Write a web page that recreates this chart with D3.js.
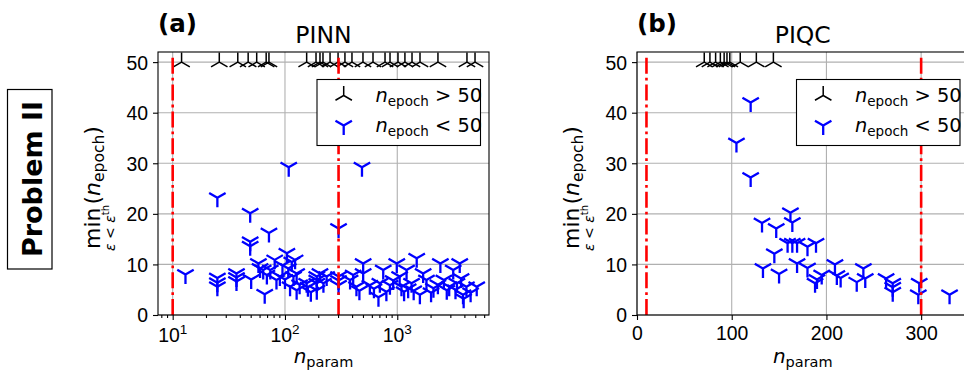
<!DOCTYPE html>
<html>
<head>
<meta charset="utf-8">
<script src="https://cdn.jsdelivr.net/npm/d3@7"></script>
<style>
body{margin:0;background:#fff}
svg{font-family:"DejaVu Sans",sans-serif}
</style>
</head>
<body>
<svg width="964" height="370"></svg>
<script>
// panel (a) PINN : runs that needed more than 50 epochs (drawn at 50)
var pinnSlowN = [12, 26, 38, 47, 56, 68, 72, 156, 189, 205, 218, 252, 297, 342, 395, 495, 608, 778, 862, 1015, 1170, 1353, 1594, 2303, 4175, 4925]
// panel (a) PINN : runs below 50 epochs
var pinnFastN = [13, 25, 49, 72, 49, 49, 25, 25, 25, 37, 37, 37, 50, 66, 108, 485, 300,
  58, 60, 64, 74, 81, 90, 104, 107, 123, 119, 127, 84, 69, 111, 127, 156, 192, 192, 192, 205, 192,
  235, 220, 300, 300, 300, 405, 380, 497, 497, 433, 570, 750, 700, 860, 990, 1050, 1090, 1210,
  1490, 1340, 1590, 1700, 1820, 2100, 2420, 2600, 2760, 3150, 3600, 3400, 3850, 4130, 5100, 680, 3900,
  95, 115, 100, 135, 160, 170, 460, 620, 800, 920, 1150, 1250, 1400, 2000, 2300, 2900, 3300, 3700, 4500]
var pinnFastEpoch = [8.0, 23.2, 20.1, 16.2, 14.5, 13.6, 7.3, 6.4, 5.6, 8.2, 7.4, 6.6, 7.0, 4.1, 29.2, 29.2, 17.1,
  10.2, 9.2, 8.9, 8.9, 10.9, 7.6, 12.2, 9.2, 10.9, 7.6, 8.2, 6.9, 7.9, 5.6, 4.9, 6.3, 7.6, 6.9, 6.3, 8.2, 4.9,
  7.6, 6.3, 7.6, 6.8, 5.9, 7.9, 6.9, 10.2, 8.2, 5.6, 5.9, 8.9, 6.3, 5.9, 10.2, 7.6, 5.6, 8.9,
  11.2, 6.3, 4.0, 8.2, 6.9, 5.3, 10.2, 6.9, 4.9, 8.9, 10.2, 6.3, 4.0, 5.6, 5.6, 3.5, 3.2,
  9.8, 10.5, 7.0, 6.0, 5.5, 4.5, 4.8, 5.2, 4.6, 6.8, 4.6, 5.2, 4.8, 4.4, 6.0, 5.6, 5.0, 7.2, 4.4]

// panel (b) PIQC
var piqcSlowN = [71, 77, 83, 88, 92, 95, 98, 109, 126, 144]
var piqcFastN = [105, 120, 120, 132, 147, 162, 164, 145, 133, 150, 159, 164, 169, 180, 189, 169, 180, 190, 195, 188,
  209, 211, 215, 232, 239, 241, 263, 270, 270, 270, 298, 297, 330]
var piqcFastEpoch = [34, 42, 27.2, 18.2, 17.1, 20.2, 18.3, 12.1, 9.2, 8.1, 14.2, 14.2, 14.2, 13.5, 14.2, 10.2, 9.3, 7.0, 7.9, 6.3,
  10.0, 7.8, 7.3, 6.5, 9.2, 7.2, 7.2, 6.3, 5.5, 4.5, 6.3, 4.0, 4.0]

var slowEpoch = 50
var paramLimits = [10, 300]
var yTicks = [0, 10, 20, 30, 40, 50]
var logTicks = [10, 100, 1000]
var linTicks = [0, 100, 200, 300]

var svg = d3.select("svg")
var plotTop = 52, plotBottom = 315

var y = d3.scaleLinear().domain([0, 52]).range([plotBottom, plotTop])

function tri(r, up) {
  var c = r * Math.cos(Math.PI / 6), s = r * 0.5
  if (up) return "M0,0V" + (-r) + "M0,0L" + (-c) + "," + s + "M0,0L" + c + "," + s
  return "M0,0V" + r + "M0,0L" + (-c) + "," + (-s) + "M0,0L" + c + "," + (-s)
}

function panel(id, x, left, right, slowN, fastN, fastEp, letter, title, isLog) {
  var g = svg.append("g")
  g.append("clipPath").attr("id", "clip" + id)
    .append("rect").attr("x", left).attr("y", plotTop).attr("width", right - left).attr("height", plotBottom - plotTop)

  // grid
  var gx = isLog ? logTicks : linTicks
  g.selectAll(".gx").data(gx).enter().append("line")
    .attr("x1", d => x(d)).attr("x2", d => x(d)).attr("y1", plotTop).attr("y2", plotBottom)
    .attr("stroke", "#b0b0b0").attr("stroke-width", 1.1)
  g.selectAll(".gy").data(yTicks).enter().append("line")
    .attr("x1", left).attr("x2", right).attr("y1", d => y(d)).attr("y2", d => y(d))
    .attr("stroke", "#b0b0b0").attr("stroke-width", 1.1)

  var plot = g.append("g").attr("clip-path", "url(#clip" + id + ")")
  plot.selectAll(".slow").data(slowN).enter().append("path")
    .attr("d", tri(9.5, true))
    .attr("transform", d => "translate(" + x(d) + "," + y(slowEpoch) + ")")
    .attr("fill", "none").attr("stroke", "#000").attr("stroke-width", 1.5)
  plot.selectAll(".fast").data(fastN).enter().append("path")
    .attr("d", tri(9.5, false))
    .attr("transform", (d, i) => "translate(" + x(d) + "," + y(fastEp[i]) + ")")
    .attr("fill", "none").attr("stroke", "#0000ff").attr("stroke-width", 2.3)

  // red limits
  plot.selectAll(".lim").data(paramLimits).enter().append("line")
    .attr("x1", d => x(d)).attr("x2", d => x(d)).attr("y1", y(0)).attr("y2", y(51))
    .attr("stroke", "red").attr("stroke-width", 2.6).attr("stroke-dasharray", "16,4,2.8,4")

  // axes
  var ya = g.append("g").attr("transform", "translate(" + left + ",0)")
    .call(d3.axisLeft(y).tickValues(yTicks).tickSize(5).tickPadding(5))
  ya.select(".domain").remove()
  ya.selectAll("text").style("font-size", "19.4px").attr("fill", "#000").attr("dy", "0.36em")
  ya.selectAll("line").attr("stroke", "#000").attr("stroke-width", 1.1)

  var xa = g.append("g").attr("transform", "translate(0," + plotBottom + ")")
  if (isLog) {
    xa.call(d3.axisBottom(x).tickValues(logTicks).tickSize(5).tickFormat(""))
    var minor = []
    ;[1, 10, 100, 1000].forEach(function (b) { for (var k = 2; k < 10; k++) if (b * k > x.domain()[0] && b * k < x.domain()[1]) minor.push(b * k) })
    xa.selectAll(".minor").data(minor).enter().append("line")
      .attr("x1", d => x(d)).attr("x2", d => x(d)).attr("y1", 0).attr("y2", 3)
      .attr("stroke", "#000").attr("stroke-width", 0.9)
    var lab = xa.selectAll(".lab").data(logTicks).enter().append("text")
      .attr("x", d => x(d)).attr("y", 27).attr("text-anchor", "middle")
      .attr("fill", "#000").style("font-size", "19.4px")
    lab.append("tspan").text("10")
    lab.append("tspan").attr("dy", -8).style("font-size", "13.5px").text(d => Math.round(Math.log10(d)))
  } else {
    xa.call(d3.axisBottom(x).tickValues(linTicks).tickSize(5).tickPadding(5))
    xa.selectAll("text").style("font-size", "19.4px").attr("fill", "#000").attr("dy", "0.76em")
  }
  xa.select(".domain").remove()
  xa.selectAll("line").attr("stroke", "#000").attr("stroke-width", 1.1)

  // spines
  g.append("rect").attr("x", left).attr("y", plotTop).attr("width", right - left).attr("height", plotBottom - plotTop)
    .attr("fill", "none").attr("stroke", "#000").attr("stroke-width", 1.1)

  // titles
  var cx = (left + right) / 2
  g.append("text").attr("x", left).attr("y", 32).style("font-size", "24.5px").style("font-weight", "bold").text(letter)
  g.append("text").attr("x", cx).attr("y", 43).attr("text-anchor", "middle").style("font-size", "23.5px").text(title)

  // x label
  var xl = g.append("text").attr("x", cx).attr("y", 363).attr("text-anchor", "middle").style("font-size", "20px")
  xl.append("tspan").style("font-style", "italic").text("n")
  xl.append("tspan").attr("dy", 4).style("font-size", "14.5px").text("param")

  // y label
  var yl = g.append("g").attr("transform", "translate(" + (left - 58) + ",249) rotate(-90)")
  var t = yl.append("text").attr("x", 0).attr("y", 0).style("font-size", "22px")
  t.append("tspan").text("min")
  t.append("tspan").attr("dx", 3).text("(")
  t.append("tspan").style("font-style", "italic").text("n")
  t.append("tspan").attr("dy", 4).style("font-size", "15.5px").text("epoch")
  t.append("tspan").attr("dy", -4).text(")")
  var s = yl.append("text").attr("x", 21).attr("y", 15).attr("text-anchor", "middle").style("font-size", "14px")
  s.append("tspan").style("font-style", "italic").text("ε")
  s.append("tspan").text(" < ")
  s.append("tspan").style("font-style", "italic").text("ε")
  s.append("tspan").attr("dy", -6).style("font-size", "10px").text("th")

  // legend
  var lx = right - 172, ly = 79.5
  var lg = g.append("g")
  lg.append("rect").attr("x", lx).attr("y", ly).attr("width", 163.5).attr("height", 66)
    .attr("fill", "#fff").attr("stroke", "#000").attr("stroke-width", 1.1)
  var rows = [{up: true, c: "#000", w: 1.5, r: 9.5, op: " > 50"}, {up: false, c: "#0000ff", w: 2.3, r: 9.5, op: " < 50"}]
  rows.forEach(function (row, i) {
    var ry = ly + 16 + i * 30
    lg.append("path").attr("d", tri(row.r, row.up)).attr("transform", "translate(" + (lx + 26.7) + "," + ry + ")")
      .attr("fill", "none").attr("stroke", row.c).attr("stroke-width", row.w)
    var lt = lg.append("text").attr("x", lx + 58.5).attr("y", ry + 6.5).style("font-size", "19.4px")
    lt.append("tspan").style("font-style", "italic").text("n")
    lt.append("tspan").attr("dy", 4).style("font-size", "13.5px").text("epoch")
    lt.append("tspan").attr("dy", -4).text(row.op)
  })
}

var xPinn = d3.scaleLog().domain([7.4, 6560]).range([158, 489])
var xPiqc = d3.scaleLinear().domain([0, 350]).range([637, 968.5])

panel("a", xPinn, 158, 489, pinnSlowN, pinnFastN, pinnFastEpoch, "(a)", "PINN", true)
panel("b", xPiqc, 637, 968.5, piqcSlowN, piqcFastN, piqcFastEpoch, "(b)", "PIQC", false)

// row label
svg.append("rect").attr("x", 7.5).attr("y", 89.5).attr("width", 44.5).attr("height", 179.5)
  .attr("fill", "#fff").attr("stroke", "#000").attr("stroke-width", 1.2)
svg.append("text").attr("transform", "translate(42,179) rotate(-90)").attr("text-anchor", "middle")
  .style("font-size", "27px").style("font-weight", "bold").text("Problem II")
</script>
</body>
</html>
